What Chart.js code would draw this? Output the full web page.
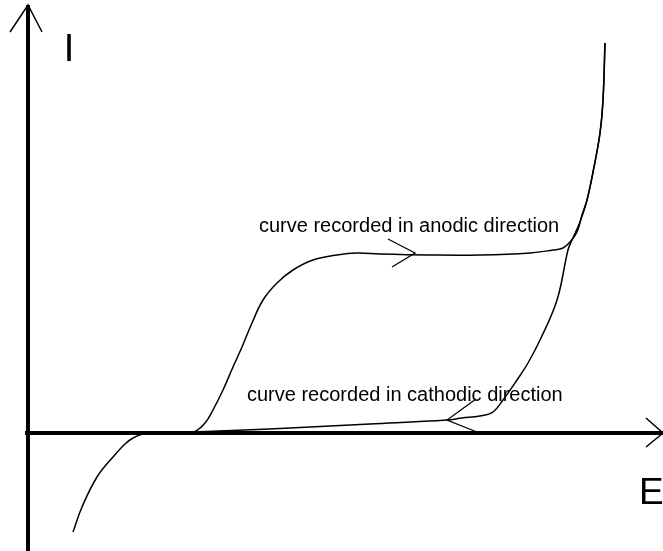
<!DOCTYPE html>
<html>
<head>
<meta charset="utf-8">
<script src="https://cdn.jsdelivr.net/npm/chart.js@4.4.1/dist/chart.umd.min.js"></script>
<style>
  html, body { margin: 0; padding: 0; background: #ffffff; }
  #wrap { width: 663px; height: 551px; position: relative; }
</style>
</head>
<body>
<div id="wrap"><canvas id="c"></canvas></div>
<script>
// Potential E and current I in arbitrary units
const anodicE = [0.45, 0.54, 0.69, 0.85, 0.97, 1.05, 1.15, 1.37, 1.65, 1.77, 1.85, 1.95, 2.05, 2.14, 2.24, 2.35, 2.49, 2.65, 2.85, 3.09, 3.29, 3.52, 4.02, 4.52, 5.02, 5.25, 5.35, 5.42, 5.49, 5.54, 5.59, 5.66, 5.72, 5.75, 5.77];
const anodicI = [-0.99, -0.74, -0.44, -0.24, -0.11, -0.05, -0.01, 0.0, 0.01, 0.10, 0.23, 0.43, 0.66, 0.86, 1.10, 1.33, 1.50, 1.63, 1.73, 1.78, 1.80, 1.79, 1.78, 1.78, 1.80, 1.83, 1.85, 1.91, 2.01, 2.18, 2.33, 2.66, 3.00, 3.33, 3.90];

const cathodicE = [5.77, 5.75, 5.72, 5.66, 5.59, 5.52, 5.44, 5.40, 5.29, 5.12, 5.00, 4.89, 4.75, 4.65, 4.52, 4.34, 4.19, 3.42, 2.42, 1.65];
const cathodicI = [3.90, 3.33, 3.00, 2.66, 2.33, 2.11, 1.93, 1.83, 1.33, 0.93, 0.70, 0.53, 0.33, 0.21, 0.17, 0.15, 0.13, 0.09, 0.04, 0.01];

// direction arrowheads (wing, tip, wing)
const anodicArrowE = [3.60, 3.87, 3.64];
const anodicArrowI = [1.94, 1.80, 1.66];
const cathodicArrowE = [4.48, 4.19, 4.49];
const cathodicArrowI = [0.34, 0.13, 0.01];

// axes
const eAxisE = [-0.03, 6.35];
const eAxisI = [0, 0];
const iAxisE = [0, 0];
const iAxisI = [-1.25, 4.28];
const eArrowE = [6.18, 6.35, 6.18];
const eArrowI = [0.15, 0, -0.14];
const iArrowE = [-0.18, 0, 0.14];
const iArrowI = [4.01, 4.28, 4.01];

// text labels
const labelTexts = ["I", "E", "curve recorded in anodic direction", "curve recorded in cathodic direction"];
const labelE = [0.357, 6.11, 2.31, 2.19];
const labelI = [3.72, -0.71, 2.01, 0.32];
const labelSizes = [38, 37, 20, 20];

const xRange = [-0.28, 6.35];
const yRange = [-1.18, 4.33];

function pts(xs, ys) { return xs.map((x, i) => ({ x: x, y: ys[i] })); }

function ds(xs, ys, width, tension) {
  return {
    data: pts(xs, ys),
    showLine: true,
    borderColor: '#000000',
    backgroundColor: '#000000',
    borderWidth: width,
    pointRadius: 0,
    pointHoverRadius: 0,
    tension: tension,
    fill: false,
    borderCapStyle: 'butt',
    borderJoinStyle: 'miter'
  };
}

const textPlugin = {
  id: 'labels',
  afterDatasetsDraw(chart) {
    const ctx = chart.ctx;
    const xs = chart.scales.x, ys = chart.scales.y;
    ctx.save();
    ctx.fillStyle = '#000000';
    ctx.textBaseline = 'alphabetic';
    ctx.textAlign = 'left';
    labelTexts.forEach((t, i) => {
      ctx.font = labelSizes[i] + 'px "Liberation Sans", Arial, sans-serif';
      ctx.fillText(t, xs.getPixelForValue(labelE[i]), ys.getPixelForValue(labelI[i]));
    });
    ctx.restore();
  }
};

new Chart(document.getElementById('c'), {
  type: 'scatter',
  data: {
    datasets: [
      ds(eAxisE, eAxisI, 4, 0),
      ds(iAxisE, iAxisI, 4, 0),
      ds(eArrowE, eArrowI, 1.5, 0),
      ds(iArrowE, iArrowI, 1.5, 0),
      ds(anodicE, anodicI, 1.5, 0.4),
      ds(cathodicE, cathodicI, 1.5, 0.4),
      ds(anodicArrowE, anodicArrowI, 1.3, 0),
      ds(cathodicArrowE, cathodicArrowI, 1.3, 0)
    ]
  },
  options: {
    responsive: true,
    maintainAspectRatio: false,
    animation: false,
    layout: { padding: 0 },
    plugins: { legend: { display: false }, tooltip: { enabled: false } },
    scales: {
      x: { type: 'linear', min: xRange[0], max: xRange[1], display: false },
      y: { type: 'linear', min: yRange[0], max: yRange[1], display: false }
    }
  },
  plugins: [textPlugin]
});
</script>
</body>
</html>
